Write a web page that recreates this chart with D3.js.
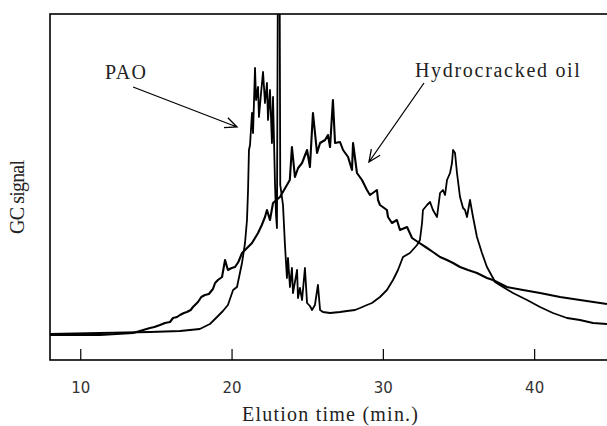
<!DOCTYPE html>
<html>
<head>
<meta charset="utf-8">
<script src="https://cdn.jsdelivr.net/npm/d3@7"></script>
<style>
  body { margin: 0; background: #fff; }
  svg { display: block; }
</style>
</head>
<body>
<svg id="chart" width="607" height="426"></svg>
<script>
// elution time (min) , GC signal (arbitrary units)
const paoData = [
  [8.0, 26], [11.3, 27], [14.6, 28], [16.6, 29], [17.9, 31], [18.57, 36], [19.04, 43],
  [19.43, 49], [19.76, 55], [20.1, 70], [20.36, 73], [20.69, 97], [20.89, 117], [21.02, 140],
  [21.09, 170], [21.15, 210], [21.22, 215], [21.35, 247], [21.42, 227], [21.55, 292],
  [21.62, 260], [21.75, 273], [21.81, 243], [21.95, 267], [22.08, 288], [22.21, 257],
  [22.34, 277], [22.41, 240], [22.54, 270], [22.67, 217], [22.74, 263], [22.87, 177],
  [22.94, 145], [23.0, 132], [23.07, 420], [23.17, 420], [23.22, 175], [23.4, 155],
  [23.53, 115], [23.66, 82], [23.73, 102], [23.86, 73], [23.99, 92], [24.06, 67],
  [24.33, 90], [24.39, 62], [24.52, 72], [24.66, 60], [24.85, 92], [24.99, 57],
  [25.18, 54], [25.32, 50], [25.51, 55], [25.71, 75], [25.85, 50], [26.04, 48],
  [26.51, 47], [27.17, 48], [27.63, 49], [28.16, 50], [28.49, 52], [28.95, 55],
  [29.28, 57], [29.81, 63], [30.27, 70], [30.67, 80], [31.0, 90], [31.33, 103],
  [31.79, 107], [32.26, 115], [32.45, 120], [32.59, 137], [32.65, 150], [32.92, 155],
  [33.12, 158], [33.31, 150], [33.58, 143], [33.78, 167], [33.97, 170], [34.11, 165],
  [34.24, 180], [34.44, 187], [34.57, 197], [34.64, 210], [34.77, 207], [34.9, 187],
  [35.1, 163], [35.3, 152], [35.43, 150], [35.56, 143], [35.76, 160], [35.96, 143],
  [36.22, 123], [36.55, 107], [36.88, 93], [37.28, 82], [37.41, 78], [37.94, 73],
  [38.6, 67], [39.53, 60], [40.39, 53], [41.24, 47], [42.17, 42], [43.03, 40],
  [43.89, 37], [44.81, 36]
];

const hydroData = [
  [8.0, 25], [11.3, 25], [13.49, 27], [14.61, 32], [14.9, 33], [15.27, 35], [15.6, 37],
  [15.93, 38], [16.13, 42], [16.4, 43], [16.59, 45], [16.85, 47], [17.05, 48], [17.3, 50],
  [17.45, 53], [17.78, 58], [18.0, 63], [18.24, 65], [18.5, 66], [18.77, 71], [18.91, 77],
  [19.1, 80], [19.37, 83], [19.57, 100], [19.76, 90], [20.0, 92], [20.23, 93], [20.45, 98],
  [20.69, 107], [21.09, 113], [21.35, 117], [21.75, 127], [22.0, 135], [22.21, 143],
  [22.34, 150], [22.54, 140], [22.74, 157], [23.2, 163], [23.66, 175], [23.85, 180],
  [23.99, 213], [24.19, 183], [24.4, 192], [24.66, 197], [24.99, 210], [25.18, 193],
  [25.38, 247], [25.65, 207], [25.85, 217], [26.18, 220], [26.37, 225], [26.51, 213],
  [26.7, 260], [26.84, 217], [27.17, 218], [27.37, 210], [27.7, 203], [27.96, 190],
  [28.03, 217], [28.29, 187], [28.62, 180], [28.95, 170], [29.15, 165], [29.61, 170],
  [29.68, 160], [29.81, 155], [30.27, 150], [30.34, 143], [30.6, 137], [30.93, 140],
  [31.13, 130], [31.6, 133], [31.93, 122], [32.32, 118], [32.92, 112], [33.31, 108],
  [33.78, 103], [34.24, 100], [34.64, 97], [35.1, 93], [35.63, 90], [36.22, 87],
  [36.88, 82], [37.28, 80], [38.2, 73], [39.26, 70], [40.39, 67], [41.71, 63],
  [43.03, 60], [44.81, 56]
];

const xTicks = [10, 20, 30, 40];

// labels and arrows, in data units: [text, t, v, width], arrows [t0, v0, t1, v1]
const labels = [["PAO", 11.64, 281, 41], ["Hydrocracked oil", 32.12, 283, 165]];
const arrows = [[13.49, 273, 20.36, 233], [32.72, 277, 29.08, 198]];

const svg = d3.select("#chart");
const margin = { left: 50, top: 14, bottom: 360 };
const textFont = "Liberation Serif";

const x = d3.scaleLinear().domain([8, 45]).range([margin.left, 609.8]);
const y = d3.scaleLinear().domain([0, 346]).range([margin.bottom, margin.top]);

svg.append("clipPath").attr("id", "plot")
  .append("rect")
  .attr("x", x(8)).attr("y", y(346))
  .attr("width", x(45) - x(8)).attr("height", y(0) - y(346));

const line = d3.line().x(d => x(d[0])).y(d => y(d[1]));

const curves = svg.append("g").attr("clip-path", "url(#plot)");
[[paoData, 1.8], [hydroData, 2.1]].forEach(([s, w]) => {
  curves.append("path")
    .attr("d", line(s))
    .attr("fill", "none")
    .attr("stroke", "#000")
    .attr("stroke-width", w)
    .attr("stroke-linejoin", "round");
});

// frame
svg.append("rect")
  .attr("x", x(8)).attr("y", y(346))
  .attr("width", x(45) - x(8)).attr("height", y(0) - y(346))
  .attr("fill", "none").attr("stroke", "#000").attr("stroke-width", 1.6);

// bottom axis, inward ticks
const xAxis = d3.axisBottom(x).tickValues(xTicks).tickSizeInner(-11).tickSizeOuter(0)
  .tickPadding(22).tickFormat(d3.format("d"));
const gx = svg.append("g").attr("transform", `translate(0,${y(0)})`).call(xAxis);
gx.select(".domain").remove();
gx.selectAll(".tick line").attr("stroke", "#000").attr("stroke-width", 1.2);
gx.selectAll(".tick text")
  .attr("font-family", "DejaVu Sans").attr("font-size", 15).attr("fill", "#333");

// axis titles
svg.append("text")
  .attr("x", 242).attr("y", 421)
  .attr("font-family", textFont).attr("font-size", 20)
  .attr("textLength", 176).attr("lengthAdjust", "spacing")
  .attr("fill", "#222")
  .text("Elution time (min.)");

svg.append("text")
  .attr("transform", "translate(24,197) rotate(-90)")
  .attr("text-anchor", "middle")
  .attr("font-family", textFont).attr("font-size", 20)
  .attr("textLength", 74).attr("lengthAdjust", "spacing")
  .attr("fill", "#222")
  .text("GC signal");

// annotations
labels.forEach(l => {
  svg.append("text")
    .attr("x", x(l[1])).attr("y", y(l[2]))
    .attr("font-family", textFont).attr("font-size", 20)
    .attr("textLength", l[3]).attr("lengthAdjust", "spacing")
    .attr("fill", "#222")
    .text(l[0]);
});

arrows.forEach(a => {
  const x0 = x(a[0]), y0 = y(a[1]), x1 = x(a[2]), y1 = y(a[3]);
  const ang = Math.atan2(y1 - y0, x1 - x0);
  const len = 13, spread = 0.42;
  const w1 = [x1 - len * Math.cos(ang - spread), y1 - len * Math.sin(ang - spread)];
  const w2 = [x1 - len * Math.cos(ang + spread), y1 - len * Math.sin(ang + spread)];
  svg.append("path")
    .attr("d", `M${x0},${y0}L${x1},${y1}M${w1[0]},${w1[1]}L${x1},${y1}L${w2[0]},${w2[1]}`)
    .attr("fill", "none").attr("stroke", "#000").attr("stroke-width", 1.3);
});
</script>
</body>
</html>
